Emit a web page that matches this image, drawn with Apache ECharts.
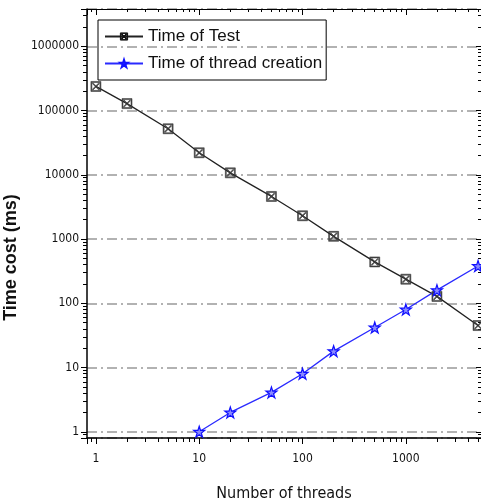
<!DOCTYPE html>
<html>
<head>
<meta charset="UTF-8">
<title>thread time</title>
<script type="text/javascript" src="https://cdn.jsdelivr.net/npm/echarts@6/dist/echarts.min.js"></script>
<style>
	body{margin:0;background:#fff;}
	#main{width:481px;height:504px;}
</style>
</head>
<body>
	<div id="main"></div>
	<script type="text/javascript">
		// data
		var threads = [1, 2, 5, 10, 20, 50, 100, 200, 500, 1000, 2000, 5000];
		var testTime = [237000, 128000, 52000, 22000, 10700, 4600, 2300, 1100, 440, 237, 128, 45];
		var createThreads = [10, 20, 50, 100, 200, 500, 1000, 2000, 5000];
		var createTime = [1, 2, 4.1, 8, 18, 42, 80, 160, 380];

		var fnt = '"DejaVu Sans Condensed", "Liberation Sans", sans-serif';
		var star = 'path://M5,0L6.2,3.6L10,3.6L6.9,5.9L8.1,9.5L5,7.3L1.9,9.5L3.1,5.9L0,3.6L3.8,3.6Z';
		var boxX = 'path://M0,0H10V10H0ZM1,1V9H9V1ZM1.5,2.2L2.2,1.5L8.5,7.8L7.8,8.5ZM7.8,1.5L8.5,2.2L2.2,8.5L1.5,7.8Z';

		function pairs(xs, ys) {
			var out = [];
			for (var i = 0; i < xs.length; i++) out.push([xs[i], ys[i]]);
			return out;
		}
		function plain(v) { return String(Math.round(v)); }

		var myChart = echarts.init(document.getElementById('main'));
		var option = {
			animation: false,
			grid: {left: 87, right: 0, top: 9, bottom: 66, outerBoundsMode: 'none', containLabel: false},
			legend: {
				orient: 'vertical',
				left: 98, top: 20,
				borderColor: '#000', borderWidth: 1,
				padding: [8, 4, 8, 6],
				itemGap: 10,
				itemWidth: 38, itemHeight: 9,
				textStyle: {fontFamily: '"Liberation Sans", sans-serif', fontSize: 17, color: '#111'},
				data: [
					{name: 'Time of Test', itemStyle: {color: '#777', borderColor: '#111', borderWidth: 1}},
					{name: 'Time of thread creation'}
				]
			},
			xAxis: [{
				type: 'log', logBase: 10,
				min: 0.82, max: 5340,
				name: 'Number of threads',
				nameLocation: 'middle', nameGap: 48,
				nameTextStyle: {fontFamily: fnt, fontSize: 16, color: '#111'},
				axisLine: {lineStyle: {color: '#000', width: 1.5}},
				axisTick: {inside: false, length: 6, lineStyle: {color: '#000'}},
				minorTick: {show: true, splitNumber: 9, length: 4, lineStyle: {color: '#000'}},
				axisLabel: {fontFamily: fnt, fontSize: 12, color: '#111', margin: 15,
					showMinLabel: false, showMaxLabel: false, formatter: plain},
				splitLine: {show: false}
			}, {
				type: 'log', logBase: 10,
				min: 0.82, max: 5340,
				position: 'top',
				axisLine: {lineStyle: {color: '#000', width: 1}},
				axisTick: {inside: true, length: 6, lineStyle: {color: '#000'}},
				minorTick: {show: true, splitNumber: 9, length: 3, lineStyle: {color: '#000'}},
				axisLabel: {show: false},
				splitLine: {show: false}
			}],
			yAxis: [{
				type: 'log', logBase: 10,
				min: 0.8, max: 3800000,
				name: 'Time cost (ms)',
				nameLocation: 'middle', nameGap: 57,
				nameTextStyle: {fontFamily: '"Liberation Sans", Arial, sans-serif', fontSize: 18, fontWeight: 'bold', color: '#111',
					padding: [0, 68, 0, 0]},
				axisLine: {lineStyle: {color: '#000', width: 1.5}},
				axisTick: {inside: false, length: 6, lineStyle: {color: '#000'}},
				minorTick: {show: true, splitNumber: 9, length: 4, lineStyle: {color: '#000'}},
				axisLabel: {fontFamily: fnt, fontSize: 12, color: '#111', margin: 8,
					showMinLabel: false, showMaxLabel: false, formatter: plain},
				splitLine: {show: true, lineStyle: {color: '#999', width: 1.5, type: [10, 4, 2, 4]}}
			}, {
				type: 'log', logBase: 10,
				min: 0.8, max: 3800000,
				position: 'right',
				axisLine: {lineStyle: {color: '#000', width: 1, type: 'dotted'}},
				axisTick: {inside: true, length: 5, lineStyle: {color: '#000'}},
				minorTick: {show: true, splitNumber: 9, length: 3, lineStyle: {color: '#000'}},
				axisLabel: {show: false},
				splitLine: {show: false}
			}],
			series: [{
				name: 'Time of Test',
				type: 'line',
				data: pairs(threads, testTime),
				symbol: boxX, symbolSize: 10,
				itemStyle: {color: '#555', borderColor: '#222', borderWidth: 0.5},
				lineStyle: {color: '#222', width: 1.3}
			}, {
				name: 'Time of thread creation',
				type: 'line',
				data: pairs(createThreads, createTime),
				symbol: star, symbolSize: 11,
				itemStyle: {color: '#8a8aff', borderColor: '#1010ff', borderWidth: 1.2},
				lineStyle: {color: '#2a2aff', width: 1.3}
			}]
		};
		myChart.setOption(option);
	</script>
</body>
</html>
